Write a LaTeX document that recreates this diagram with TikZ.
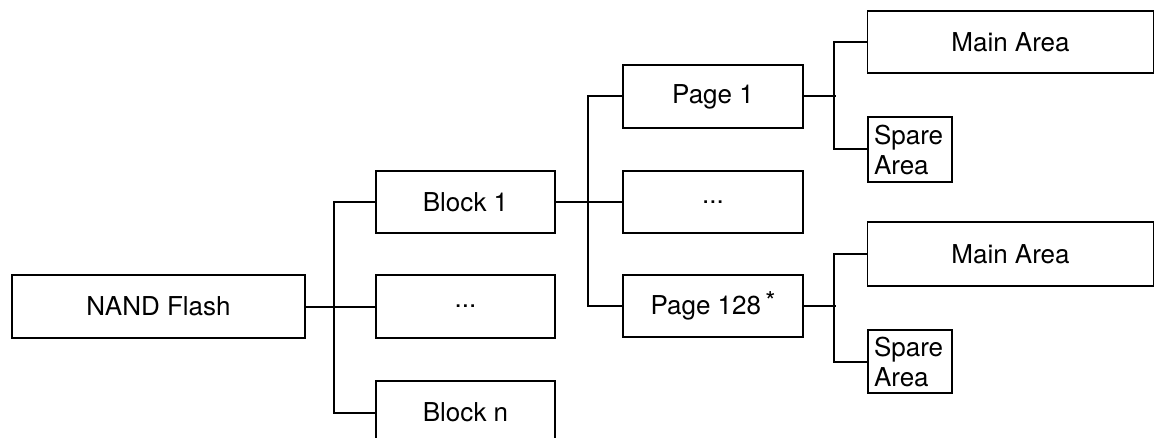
\documentclass[tikz,border=0pt]{standalone}
\usepackage{fontspec}
\setmainfont{TeX Gyre Heros}

\begin{document}
\begin{tikzpicture}[x=1pt, y=-1pt]
      \begin{scope}
        \tikzstyle{bnode} = [line width=1.8pt, draw=black, rectangle, inner sep = 0pt, align=center,
                             font=\fontsize{26}{30}\selectfont]
        \tikzstyle{snode} = [bnode, align=left, text width=72pt, inner xsep=6pt]
        \tikzstyle{conn} = [line width=2pt]
        \useasboundingbox (0,0) rectangle (1156,438);
        % level 0
        \node[bnode, minimum width=293pt, minimum height=63pt] (flash) at (158.5,306.5) {NAND Flash};
        % blocks
        \node[bnode, minimum width=179pt, minimum height=62pt] (blk1) at (465.5,202) {Block 1};
        \node[bnode, minimum width=179pt, minimum height=63pt] (blkdots) at (465.5,306.5) {...};
        \node[bnode, minimum width=179pt, minimum height=63pt] (blkn) at (465.5,412.5) {Block n};
        % pages
        \node[bnode, minimum width=180pt, minimum height=63pt] (pg1) at (713,96.5) {Page 1};
        \node[bnode, minimum width=180pt, minimum height=62pt] (pgdots) at (713,202) {...};
        \node[bnode, minimum width=180pt, minimum height=62pt] (pg128) at (713,306)
          {Page 128\,\raisebox{4pt}{*}};
        % areas
        \node[bnode, minimum width=286pt, minimum height=62pt] (main1) at (1010.5,42) {Main Area};
        \node[snode, minimum height=65pt] (spare1) at (910,149.5) {Spare\\Area};
        \node[bnode, minimum width=286pt, minimum height=64pt] (main2) at (1010.5,254) {Main Area};
        \node[snode, minimum height=63pt] (spare2) at (910,361.5) {Spare\\Area};
        % connectors
        \draw[conn] (flash) -- (blkdots);
        \draw[conn] (blk1.west) -- ++(-41,0) |- (blkn.west);
        \draw[conn] (blk1) -- (pgdots);
        \draw[conn] (pg1.west) -- ++(-34,0) |- (pg128.west);
        \draw[conn] (pg1.east) -- ++(32,0);
        \draw[conn] (main1.west) -- ++(-33,0) |- (spare1.west);
        \draw[conn] (pg128.east) -- ++(32,0);
        \draw[conn] (main2.west) -- ++(-33,0) |- (spare2.west);
      \end{scope}
\end{tikzpicture}
\end{document}
